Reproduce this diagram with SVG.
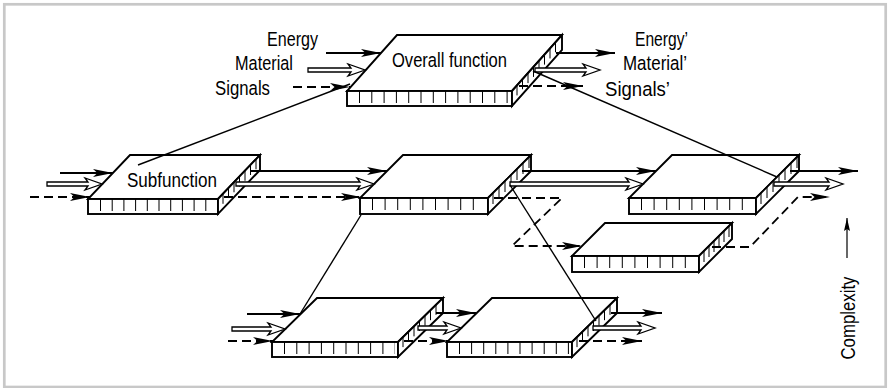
<svg xmlns="http://www.w3.org/2000/svg" width="890" height="388" viewBox="0 0 890 388">
<defs>
<style>
.face{fill:#fff;stroke:#000;stroke-width:1.9;stroke-linejoin:miter}
.ft{stroke:#000;stroke-width:12;fill:none}
.st{stroke:#000;stroke-width:1;fill:none}
.en{stroke:#000;stroke-width:1.8;fill:none;marker-end:url(#ah)}
.sg{stroke:#000;stroke-width:1.8;fill:none;stroke-dasharray:9 5;marker-end:url(#ah)}
.mt{fill:#fff;stroke:#000;stroke-width:1.3;stroke-linejoin:miter}
.hl{stroke:#000;stroke-width:1.4;fill:none}
.lb{font-family:"Liberation Sans Narrow","Liberation Sans",Arial,sans-serif;font-size:20.5px;fill:#000}
</style>
<marker id="ah" markerUnits="userSpaceOnUse" viewBox="0 0 20 9" refX="20" refY="4.5" markerWidth="20" markerHeight="9" orient="auto">
<path d="M0,0.6 L20,4.5 L0,8.4 L4.5,4.5 z" fill="#000"/>
</marker>
<marker id="ahs" markerUnits="userSpaceOnUse" viewBox="0 0 13 6" refX="13" refY="3" markerWidth="13" markerHeight="6" orient="auto">
<path d="M0,0 L13,3 L0,6 L2,3 z" fill="#000"/>
</marker>
</defs>
<rect x="4.3" y="4.3" width="881.4" height="382.7" fill="none" stroke="#c8c8c8" stroke-width="2.7"/>

<g id="node-overall">
<polygon class="face" points="397,35 562,35 512,91 347,91"/>
<rect class="face" x="347" y="91" width="165" height="15"/>
<polygon class="face" points="512,91 562,35 562,50 512,106"/>
<line class="ft" x1="359" y1="97" x2="510" y2="97" stroke-dasharray="1 11.3"/>
<path class="st" d="M517,85.4v10m5.5,-16.16v10m5.5,-16.16v10m5.5,-16.16v10m5.5,-16.16v10m5.5,-16.16v10m5.5,-16.16v10m5.5,-16.16v10"/>
<text class="lb" x="392" y="67" textLength="115" lengthAdjust="spacingAndGlyphs">Overall function</text>
</g>

<g id="node-subfunction">
<polygon class="face" points="130,155 260,155 218,199 88,199"/>
<rect class="face" x="88" y="199" width="130" height="15"/>
<polygon class="face" points="218,199 260,155 260,170 218,214"/>
<line class="ft" x1="100" y1="205" x2="214" y2="205" stroke-dasharray="1 10.7"/>
<path class="st" d="M223,193.8v10m5.5,-15.76v10m5.5,-15.76v10m5.5,-15.76v10m5.5,-15.76v10m5.5,-15.76v10m5.5,-15.76v10"/>
<text class="lb" x="127" y="187" textLength="90" lengthAdjust="spacingAndGlyphs">Subfunction</text>
</g>

<g id="node-mid">
<polygon class="face" points="403,155 531,155 488,198 360,198"/>
<rect class="face" x="360" y="198" width="128" height="16"/>
<polygon class="face" points="488,198 531,155 531,171 488,214"/>
<line class="ft" x1="372" y1="204" x2="485" y2="204" stroke-dasharray="1 11.6"/>
<path class="st" d="M493,193v11m6,-17v11m6,-17v11m6,-17v11m6,-17v11m6,-17v11m6,-17v11"/>
</g>

<g id="node-right-top">
<polygon class="face" points="672,155 799,155 756,198 629,198"/>
<rect class="face" x="629" y="198" width="127" height="16"/>
<polygon class="face" points="756,198 799,155 799,171 756,214"/>
<line class="ft" x1="641" y1="204" x2="753" y2="204" stroke-dasharray="1 11.6"/>
<path class="st" d="M761,193v11m6,-17v11m6,-17v11m6,-17v11m6,-17v11m6,-17v11m6,-17v11"/>
</g>

<g id="node-right-low">
<polygon class="face" points="605,223 732,223 699,256 572,256"/>
<rect class="face" x="572" y="256" width="127" height="16"/>
<polygon class="face" points="699,256 732,223 732,239 699,272"/>
<line class="ft" x1="584" y1="262" x2="696" y2="262" stroke-dasharray="1 11.6"/>
<path class="st" d="M704,251v11m5,-16v11m5,-16v11m5,-16v11m5,-16v11m5,-16v11"/>
</g>

<g id="node-bottom-1">
<polygon class="face" points="317,298 443,298 398,342 272,342"/>
<rect class="face" x="272" y="342" width="126" height="15"/>
<polygon class="face" points="398,342 443,298 443,313 398,357"/>
<line class="ft" x1="284" y1="348" x2="395" y2="348" stroke-dasharray="1 11.3"/>
<path class="st" d="M403,337.1v10m5.5,-15.38v10m5.5,-15.38v10m5.5,-15.38v10m5.5,-15.38v10m5.5,-15.38v10m5.5,-15.38v10"/>
</g>

<g id="node-bottom-2">
<polygon class="face" points="492,298 617,298 572,342 447,342"/>
<rect class="face" x="447" y="342" width="125" height="15"/>
<polygon class="face" points="572,342 617,298 617,313 572,357"/>
<line class="ft" x1="459" y1="348" x2="569" y2="348" stroke-dasharray="1 11.1"/>
<path class="st" d="M577,337.1v10m5.5,-15.38v10m5.5,-15.38v10m5.5,-15.38v10m5.5,-15.38v10m5.5,-15.38v10m5.5,-15.38v10"/>
</g>

<g id="connectors">
<line class="en" x1="326" y1="53" x2="381" y2="53"/>
<line class="en" x1="556" y1="53" x2="615" y2="53"/>
<line class="en" x1="60" y1="173" x2="113" y2="173"/>
<line class="en" x1="250" y1="171" x2="387" y2="171"/>
<line class="en" x1="522" y1="171" x2="656" y2="171"/>
<line class="en" x1="790" y1="171" x2="858" y2="171"/>
<line class="en" x1="247" y1="314" x2="300" y2="314"/>
<line class="en" x1="436" y1="313" x2="476" y2="313"/>
<line class="en" x1="611" y1="313" x2="662" y2="313"/>
<polygon class="mt" points="308,68 351,68 348,64 365,70 348,76 351,72 308,72"/>
<polygon class="mt" points="535,68 586,68 583,64 600,70 583,76 586,72 535,72"/>
<polygon class="mt" points="47,182 88,182 85,178 102,184 85,190 88,186 47,186"/>
<polygon class="mt" points="236,182 360,182 357,178 374,184 357,190 360,186 236,186"/>
<polygon class="mt" points="510,182 629,182 626,178 643,184 626,190 629,186 510,186"/>
<polygon class="mt" points="774,182 829,182 826,178 843,184 826,190 829,186 774,186"/>
<polygon class="mt" points="232,327 271,327 268,323 285,329 268,335 271,331 232,331"/>
<polygon class="mt" points="418,326 447,326 444,322 461,328 444,334 447,330 418,330"/>
<polygon class="mt" points="593,326 641,326 638,322 655,328 638,334 641,330 593,330"/>
<line class="sg" x1="293" y1="87" x2="350" y2="87"/>
<line class="sg" x1="519" y1="86" x2="583" y2="86"/>
<line class="sg" x1="30" y1="197" x2="90" y2="197"/>
<line class="sg" x1="224" y1="197" x2="361" y2="197"/>
<path class="sg" d="M494,198 H562 L512,246 H582"/>
<path class="sg" d="M712,247 H750 L798,197 H830"/>
<line class="sg" x1="228" y1="341" x2="273" y2="341"/>
<line class="sg" x1="404" y1="341" x2="449" y2="341"/>
<line class="sg" x1="579" y1="341" x2="642" y2="341"/>
<line class="hl" x1="138" y1="165" x2="350" y2="84"/>
<line class="hl" x1="533" y1="71" x2="777" y2="177"/>
<line class="hl" x1="361" y1="215" x2="300" y2="314"/>
<line class="hl" x1="510" y1="185" x2="596" y2="321"/>
<line x1="847" y1="258" x2="847" y2="218" stroke="#000" stroke-width="1.2" marker-end="url(#ahs)"/>
</g>

<g id="labels">
<text class="lb" x="318" y="46" text-anchor="end" textLength="51" lengthAdjust="spacingAndGlyphs">Energy</text>
<text class="lb" x="235" y="70" textLength="58" lengthAdjust="spacingAndGlyphs">Material</text>
<text class="lb" x="215" y="95" textLength="55" lengthAdjust="spacingAndGlyphs">Signals</text>
<text class="lb" x="635" y="46" textLength="53" lengthAdjust="spacingAndGlyphs">Energy’</text>
<text class="lb" x="623" y="70" textLength="64" lengthAdjust="spacingAndGlyphs">Material’</text>
<text class="lb" x="605" y="95.5" textLength="65" lengthAdjust="spacingAndGlyphs">Signals’</text>
<text class="lb" transform="translate(855,318) rotate(-90)" text-anchor="middle" textLength="83" lengthAdjust="spacingAndGlyphs">Complexity</text>
</g>
</svg>
